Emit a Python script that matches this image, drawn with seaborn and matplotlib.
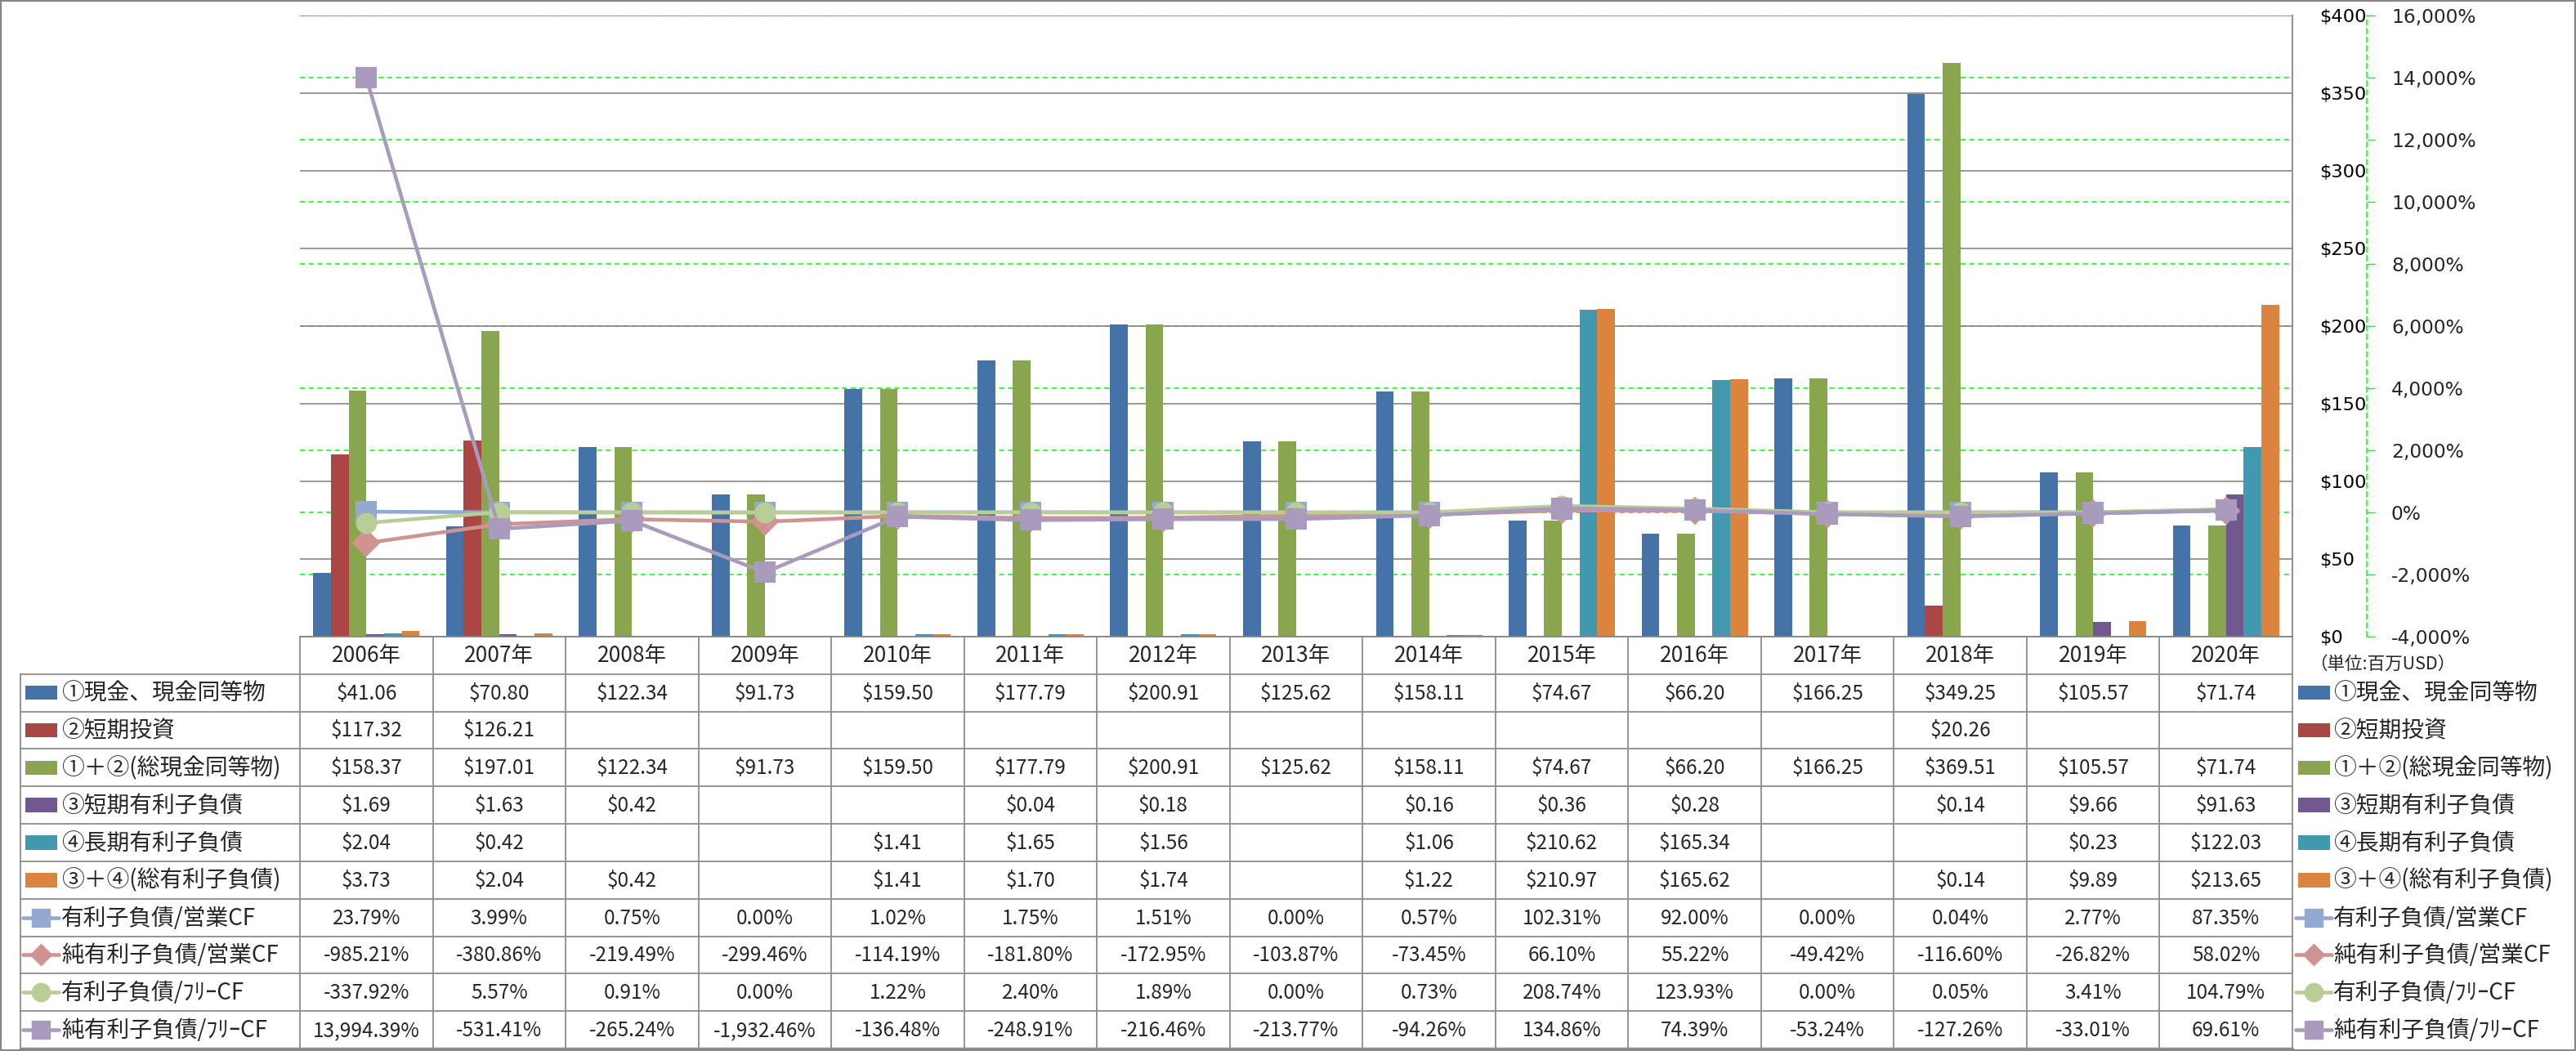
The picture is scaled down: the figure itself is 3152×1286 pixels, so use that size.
import numpy as np
import pandas as pd
import matplotlib
matplotlib.use("Agg")
import matplotlib.pyplot as plt
from matplotlib.patches import Rectangle
import matplotlib.ticker as mticker
import seaborn as sns

# ---------------- data ----------------
years = ["2006年", "2007年", "2008年", "2009年", "2010年", "2011年", "2012年", "2013年",
         "2014年", "2015年", "2016年", "2017年", "2018年", "2019年", "2020年"]

bar_names = ["①現金、現金同等物", "②短期投資", "①＋②(総現金同等物)",
             "③短期有利子負債", "④長期有利子負債", "③＋④(総有利子負債)"]
line_names = ["有利子負債/営業CF", "純有利子負債/営業CF", "有利子負債/ﾌﾘｰCF", "純有利子負債/ﾌﾘｰCF"]

N = None
cash = [41.06, 70.80, 122.34, 91.73, 159.50, 177.79, 200.91, 125.62, 158.11, 74.67, 66.20, 166.25, 349.25, 105.57, 71.74]
short_inv = [117.32, 126.21, N, N, N, N, N, N, N, N, N, N, 20.26, N, N]
total_cash = [158.37, 197.01, 122.34, 91.73, 159.50, 177.79, 200.91, 125.62, 158.11, 74.67, 66.20, 166.25, 369.51, 105.57, 71.74]
short_debt = [1.69, 1.63, 0.42, N, N, 0.04, 0.18, N, 0.16, 0.36, 0.28, N, 0.14, 9.66, 91.63]
long_debt = [2.04, 0.42, N, N, 1.41, 1.65, 1.56, N, 1.06, 210.62, 165.34, N, N, 0.23, 122.03]
total_debt = [3.73, 2.04, 0.42, N, 1.41, 1.70, 1.74, N, 1.22, 210.97, 165.62, N, 0.14, 9.89, 213.65]

debt_ocf = [23.79, 3.99, 0.75, 0.00, 1.02, 1.75, 1.51, 0.00, 0.57, 102.31, 92.00, 0.00, 0.04, 2.77, 87.35]
netdebt_ocf = [-985.21, -380.86, -219.49, -299.46, -114.19, -181.80, -172.95, -103.87, -73.45, 66.10, 55.22, -49.42, -116.60, -26.82, 58.02]
debt_fcf = [-337.92, 5.57, 0.91, 0.00, 1.22, 2.40, 1.89, 0.00, 0.73, 208.74, 123.93, 0.00, 0.05, 3.41, 104.79]
netdebt_fcf = [13994.39, -531.41, -265.24, -1932.46, -136.48, -248.91, -216.46, -213.77, -94.26, 134.86, 74.39, -53.24, -127.26, -33.01, 69.61]

bar_values = [cash, short_inv, total_cash, short_debt, long_debt, total_debt]
line_values = [debt_ocf, netdebt_ocf, debt_fcf, netdebt_fcf]

usd_ticks = list(range(0, 401, 50))
pct_ticks = list(range(-4000, 16001, 2000))

# ---------------- style ----------------
bar_colors = ["#4572A7", "#AA4643", "#89A54E", "#71588F", "#4198AF", "#DB843D"]
line_colors = ["#93A9CF", "#D19392", "#B9CD96", "#A99BBD"]
line_markers = ["s", "D", "o", "s"]
grid_gray = "#868686"
lime = "#00FF00"

sns.set_style("white")
plt.rcParams["font.family"] = ["Noto Sans CJK JP", "DejaVu Sans"]

W, H, DPI = 3152, 1286, 100
fig = plt.figure(figsize=(W / DPI, H / DPI), dpi=DPI)
fig.patch.set_facecolor("white")

def fx(px):
    return px / W

def fy(py):
    return 1 - py / H

PL, PR, PT, PB = 367, 2805, 19, 779
TB = 1283

ax = fig.add_axes([fx(PL), fy(PB), fx(PR) - fx(PL), fy(PT) - fy(PB)])
ax3 = ax.twinx()   # green grid (behind)
ax2 = ax.twinx()   # percent lines (front)
ax3.set_zorder(0)
ax.set_zorder(1)
ax2.set_zorder(2)
ax.patch.set_visible(False)
ax2.patch.set_visible(False)
ax3.patch.set_facecolor("white")

# ---------------- bars ----------------
rows = []
for name, vals in zip(bar_names, bar_values):
    for y, v in zip(years, vals):
        rows.append({"year": y, "series": name, "value": 0.0 if v is None else v})
bar_df = pd.DataFrame(rows)

sns.barplot(data=bar_df, x="year", y="value", hue="series", order=years,
            hue_order=bar_names, palette=bar_colors, saturation=1, width=0.8,
            errorbar=None, legend=False, linewidth=0, ax=ax)
ax.set_xlim(-0.5, len(years) - 0.5)
ax.set_ylim(0, 400)
ax.set_yticks(usd_ticks)
ax.yaxis.set_major_formatter(mticker.FuncFormatter(lambda v, p: f"${v:,.0f}"))
ax.yaxis.tick_right()
ax.tick_params(axis="y", left=False, right=False, labelleft=False, labelright=True,
               pad=20.5, labelsize=16.2, labelfontfamily="DejaVu Sans", labelcolor="black")
ax.tick_params(axis="x", bottom=False, labelbottom=False)
ax.set_xlabel("")
ax.set_ylabel("")
ax.grid(axis="y", color=grid_gray, lw=1.2)
ax.grid(axis="x", visible=False)
ax.set_axisbelow(True)
for s in ["left", "top"]:
    ax.spines[s].set_visible(False)
for s in ["right", "bottom"]:
    ax.spines[s].set_color(grid_gray)
    ax.spines[s].set_linewidth(1.3)

# ---------------- green grid axis ----------------
ax3.set_ylim(-4000, 16000)
ax3.set_yticks(pct_ticks)
ax3.grid(axis="y", color=lime, ls=(0, (4, 3)), lw=1.1)
ax3.grid(axis="x", visible=False)
ax3.tick_params(left=False, right=False, labelleft=False, labelright=False,
                bottom=False, labelbottom=False)
for s in ax3.spines.values():
    s.set_visible(False)

# ---------------- lines ----------------
positions = np.arange(len(years))
for name, vals, col, mk in zip(line_names, line_values, line_colors, line_markers):
    ldf = pd.DataFrame({"pos": positions, "pct": vals})
    sns.lineplot(data=ldf, x="pos", y="pct", ax=ax2, color=col, lw=3.3,
                 marker=mk, markersize=17 if mk != "D" else 16,
                 markerfacecolor=col, markeredgecolor=col, markeredgewidth=1.5,
                 legend=False, zorder=3)
ax2.set_xlim(-0.5, len(years) - 0.5)
ax2.set_ylim(-4000, 16000)
ax2.set_yticks(pct_ticks, [f"{t:,}%" for t in pct_ticks])
for lab, t in zip(ax2.get_yticklabels(), pct_ticks):
    lab.set_color("#FF0000" if t < 0 else "black")
ax2.tick_params(axis="y", direction="out", length=7.2, width=1, color=lime,
                pad=14.4, labelsize=16.8, labelfontfamily="DejaVu Sans",
                left=False, right=True, labelright=True)
ax2.tick_params(axis="x", bottom=False, labelbottom=False)
ax2.set_xlabel("")
ax2.set_ylabel("")
ax2.grid(False)
for s in ["left", "top", "bottom"]:
    ax2.spines[s].set_visible(False)
ax2.spines["right"].set_position(("outward", 91 * 72 / DPI))
ax2.spines["right"].set_color(lime)
ax2.spines["right"].set_linestyle((0, (4, 3)))
ax2.spines["right"].set_linewidth(1.1)

# ---------------- data table ----------------
tab = fig.add_axes([fx(PL), fy(TB), fx(PR) - fx(PL), fy(PB) - fy(TB)])
tab.set_xlim(-0.5, len(years) - 0.5)
nrows = 1 + len(bar_names) + len(line_names)
tab.set_ylim(nrows, 0)
tab.axis("off")
cat_w = (PR - PL) / len(years)

def px2cat(px):
    return -0.5 + (px - PL) / cat_w

tcol = "#8C8C8C"
xl = px2cat(25)
for i in range(len(years) + 1):
    tab.plot([i - 0.5, i - 0.5], [0, nrows], color=tcol, lw=1.3, clip_on=False)
tab.plot([xl, xl], [1, nrows], color=tcol, lw=1.3, clip_on=False)
for r in range(1, nrows + 1):
    tab.plot([xl, len(years) - 0.5], [r, r], color=tcol, lw=1.3 if r < nrows else 2.5,
             clip_on=False)

for i, y in enumerate(years):
    tab.text(i, 0.52, y, ha="center", va="center", fontsize=19)

def fmt_usd(v):
    return "" if v is None else f"${v:,.2f}"

def fmt_pct(v):
    return "" if v is None else f"{v:,.2f}%"

row = 1
for vals in bar_values:
    for i, v in enumerate(vals):
        tab.text(i, row + 0.52, fmt_usd(v), ha="center", va="center", fontsize=17.5)
    row += 1
for vals in line_values:
    for i, v in enumerate(vals):
        tab.text(i, row + 0.52, fmt_pct(v), ha="center", va="center", fontsize=17.5)
    row += 1

# legend keys (left labels and right legend)
def draw_keys(key_x0, text_x):
    r = 1
    for name, col in zip(bar_names, bar_colors):
        tab.add_patch(Rectangle((px2cat(key_x0), r + 0.5 - 0.19), 39 / cat_w, 0.38,
                                facecolor=col, edgecolor="none", clip_on=False))
        tab.text(px2cat(text_x), r + 0.52, name, ha="left", va="center", fontsize=20,
                 clip_on=False)
        r += 1
    for name, col, mk in zip(line_names, line_colors, line_markers):
        tab.plot([px2cat(key_x0 - 3), px2cat(key_x0 + 41)], [r + 0.5, r + 0.5],
                 color=col, lw=3.3, clip_on=False)
        tab.plot([px2cat(key_x0 + 19)], [r + 0.5], marker=mk,
                 markersize=16 if mk != "D" else 13.5, color=col, mec=col,
                 clip_on=False)
        tab.text(px2cat(text_x), r + 0.52, name, ha="left", va="center", fontsize=20,
                 clip_on=False)
        r += 1

draw_keys(31, 75)
draw_keys(2812, 2855)
tab.text(px2cat(2826), 0.74, "（単位:百万USD）", ha="left", va="center", fontsize=15.5,
         clip_on=False)

# outer chart border
fig.add_artist(Rectangle((0, 0), 1, 1, transform=fig.transFigure, fill=False,
                         edgecolor=grid_gray, lw=3))

fig.savefig("out.png", dpi=DPI, facecolor="white")
